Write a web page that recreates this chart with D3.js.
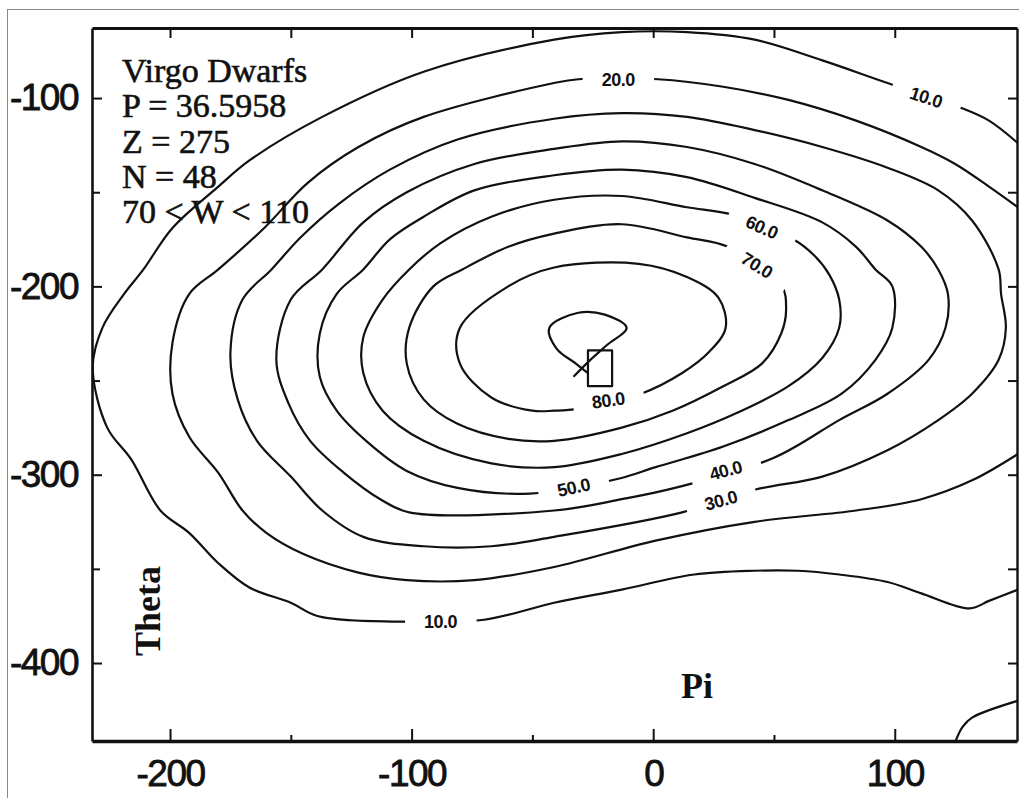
<!DOCTYPE html>
<html lang="en">
<head>
<meta charset="UTF-8">
<title>Virgo Dwarfs - contour map</title>
<script src="https://d3js.org/d3.v7.min.js"></script>
<style>
  body { margin: 0; background: #fff; }
  .axis .tick text {
    font-family: "Liberation Sans Narrow", "Liberation Sans", Arial, sans-serif;
    font-size: 37px;
    letter-spacing: -1.5px;
    fill: #111;
    stroke: #111;
    stroke-width: 0.8px;
  }
  .axis .tick line { stroke: #111; stroke-width: 2px; }
  .axis .domain { stroke: #111; }
  .contour { fill: none; stroke: #111; stroke-width: 2.2; stroke-linejoin: round; }
  .clabel {
    font-family: "Liberation Sans Narrow", "Liberation Sans", Arial, sans-serif;
    font-weight: bold;
    font-size: 18px;
    letter-spacing: -0.5px;
    fill: #111;
  }
  .info {
    font-family: "Liberation Serif", "Times New Roman", serif;
    font-size: 34px;
    fill: #111;
    stroke: #111;
    stroke-width: 0.6px;
  }
  .title {
    font-family: "Liberation Serif", "Times New Roman", serif;
    font-weight: bold;
    font-size: 36px;
    fill: #111;
  }
</style>
</head>
<body>
<svg id="chart" width="1019" height="798"></svg>
<script>
// contour lines as [Pi, Theta] points
var c10 = [[151,-124],[139,-112],[127,-105],[97,-92],[70,-80],[42,-69],[14,-65],[-13,-65],[-41,-69],
    [-95,-86],[-137,-110],[-167,-133],[-180,-147],[-199,-169],[-211,-191],[-219,-204],[-228,-222],
    [-232,-243],[-226,-275],[-216,-292],[-204,-319],[-192,-331],[-180,-347],[-167,-360],[-150,-368],
    [-139,-375],[-106,-378],[-70,-377],[-41,-368],[-13,-361],[17,-353],[42,-351],[60,-351],[77,-353],
    [97,-357],[111,-363],[131,-371],[139,-367],[151,-361]];
var c10b = [[125,-442],[128,-434],[132,-429],[151,-420]];
var c20 = [[151,-158],[139,-147],[125,-135],[111,-126],[84,-112],[56,-101],[29,-94],[2,-90],[-31,-90],
    [-41,-92],[-95,-110],[-122,-126],[-143,-145],[-161,-169],[-180,-191],[-192,-204],[-199,-230],
    [-199,-257],[-192,-280],[-180,-299],[-170,-319],[-160,-331],[-145,-342],[-122,-352],[-102,-356],
    [-74,-356],[-41,-349],[1,-335],[42,-325],[84,-319],[111,-313],[132,-303],[151,-289]];
var c30 = [[-41,-111],[-13,-108],[14,-110],[42,-117],[70,-126],[97,-137],[118,-149],[132,-165],[143,-191],
    [144,-204],[146,-222],[143,-239],[132,-257],[118,-271],[97,-287],[70,-301],[42,-308],[12,-320],
    [-41,-333],[-67,-338],[-95,-338],[-120,-333],[-137,-319],[-150,-301],[-164,-282],[-172,-260],
    [-175,-235],[-170,-207],[-158,-191],[-146,-174],[-130,-156],[-109,-138],[-81,-122]];
var c40 = [[-41,-127],[-13,-123],[14,-126],[42,-135],[70,-149],[97,-165],[111,-179],[118,-191],[122,-204],
    [121,-222],[114,-239],[97,-257],[77,-271],[50,-291],[9,-307],[-13,-313],[-41,-319],[-101,-320],
    [-113,-313],[-128,-299],[-142,-282],[-151,-262],[-156,-239],[-150,-207],[-137,-191],[-120,-166],
    [-102,-150],[-74,-135]];
var c50 = [[-41,-141],[-13,-138],[14,-142],[42,-153],[70,-166],[84,-179],[92,-191],[99,-200],[99,-222],
    [92,-239],[78,-257],[56,-271],[29,-285],[1,-296],[-14,-302],[-51,-310],[-81,-307],[-102,-298],
    [-118,-283],[-131,-266],[-138,-248],[-138,-225],[-131,-204],[-120,-191],[-109,-175],[-95,-163],
    [-74,-149]];
var c60 = [[-41,-154],[-13,-152],[14,-158],[33,-162],[58,-175],[67,-184],[73,-194],[77,-207],[77,-222],
    [70,-238],[56,-253],[35,-267],[14,-278],[-13,-289],[-41,-296],[-67,-294],[-95,-282],[-112,-266],
    [-120,-246],[-120,-227],[-112,-207],[-101,-191],[-88,-177],[-67,-163]];
var c70 = [[-41,-172],[-13,-167],[14,-174],[31,-179],[53,-199],[55,-213],[53,-225],[45,-241],[29,-253],
    [8,-266],[-13,-275],[-41,-282],[-60,-281],[-81,-273],[-95,-260],[-102,-241],[-101,-222],[-91,-200],
    [-79,-191],[-60,-179]];
var c80 = [[-41,-190],[-6,-188],[14,-195],[27,-206],[30,-222],[23,-235],[12,-246],[-5,-257],[-31,-265],
    [-41,-266],[-50,-266],[-67,-259],[-80,-241],[-80,-222],[-60,-200]];
var c90 = [[-27,-246],[-32,-241],[-40,-233],[-43,-222],[-31,-214],[-20,-215],[-11,-222],[-19,-231],
    [-26,-239],[-33,-248]];

// small box marker
var boxPi = [-27, -17];
var boxTheta = [-234, -253];

// contour labels
var labelText = ["10.0", "20.0", "60.0", "70.0", "80.0", "50.0", "40.0", "30.0", "10.0"];
var labelPi = [113, -14.5, 45, 43, -18.6, -33, 30, 28, -88];
var labelTheta = [-99.5, -90.4, -168.5, -188.7, -260.4, -306.6, -297.6, -313.5, -377.8];
var labelAngle = [18, 0, 24, 32, -8, -12, -15, -15, 0];

var infoLines = ["Virgo Dwarfs", "P = 36.5958", "Z = 275", "N = 48", "70 < W < 110"];

var xMajor = [-200, -100, 0, 100];
var xMinor = [-150, -50, 50];
var xTop = [-200, -150, -100, -50, 0, 50, 100];
var yMajor = [-100, -200, -300, -400];
var yMinor = [-150, -250, -350];
var yRight = [-100, -150, -200, -250, -300, -350, -400];

var svg = d3.select("#chart");
var pLeft = 92, pRight = 1017, pTop = 28, pBottom = 741;

var x = d3.scaleLinear().domain([-232.3, 150.6]).range([pLeft, pRight]);
var y = d3.scaleLinear().domain([-62.8, -441.4]).range([pTop, pBottom]);

// thin outer frame of the scan
svg.append("rect")
    .attr("x", 7.5).attr("y", 9.5)
    .attr("width", 1100).attr("height", 900)
    .attr("fill", "none").attr("stroke", "#888").attr("stroke-width", 1);

svg.append("defs").append("clipPath").attr("id", "plot")
    .append("rect")
    .attr("x", pLeft).attr("y", pTop)
    .attr("width", pRight - pLeft).attr("height", pBottom - pTop);

var openLine = d3.line()
    .x(function(d) { return x(d[0]); })
    .y(function(d) { return y(d[1]); })
    .curve(d3.curveCatmullRom.alpha(0.5));
var closedLine = d3.line()
    .x(function(d) { return x(d[0]); })
    .y(function(d) { return y(d[1]); })
    .curve(d3.curveCatmullRomClosed.alpha(0.5));

var plot = svg.append("g").attr("clip-path", "url(#plot)");

plot.selectAll(".open")
    .data([c10, c10b, c20, c90])
    .enter().append("path")
    .attr("class", "contour open")
    .attr("d", openLine);

plot.selectAll(".closed")
    .data([c30, c40, c50, c60, c70, c80])
    .enter().append("path")
    .attr("class", "contour closed")
    .attr("d", closedLine);

plot.append("rect")
    .attr("class", "contour")
    .attr("x", x(boxPi[0]))
    .attr("y", y(boxTheta[0]))
    .attr("width", x(boxPi[1]) - x(boxPi[0]))
    .attr("height", y(boxTheta[1]) - y(boxTheta[0]));

// labels sit in a gap cut out of the line
var labs = plot.selectAll(".lab")
    .data(labelText)
    .enter().append("g")
    .attr("class", "lab")
    .attr("transform", function(d, i) {
        return "translate(" + x(labelPi[i]) + "," + y(labelTheta[i]) + ") rotate(" + labelAngle[i] + ")";
    });
labs.append("rect").attr("fill", "#fff");
labs.append("text")
    .attr("class", "clabel")
    .attr("text-anchor", "middle")
    .attr("dy", "0.36em")
    .text(function(d) { return d; });
labs.each(function() {
    var g = d3.select(this);
    var b = g.select("text").node().getBBox();
    g.select("rect")
        .attr("x", b.x - 19).attr("y", b.y + 1)
        .attr("width", b.width + 38).attr("height", b.height - 2);
});

// axes, ticks point inward
var label = function(d) { return String(d); };

var xAxis = svg.append("g").attr("class", "axis")
    .attr("transform", "translate(0," + pBottom + ")")
    .call(d3.axisBottom(x).tickValues(xMajor).tickSizeInner(-12).tickSizeOuter(0)
        .tickPadding(19).tickFormat(label));
xAxis.select(".domain").attr("stroke-width", 3.5);

svg.append("g").attr("class", "axis")
    .attr("transform", "translate(0," + pBottom + ")")
    .call(d3.axisBottom(x).tickValues(xMinor).tickSizeInner(-6).tickSizeOuter(0).tickFormat(""))
    .call(function(g) { g.select(".domain").remove(); });

var yAxis = svg.append("g").attr("class", "axis")
    .attr("transform", "translate(" + pLeft + ",0)")
    .call(d3.axisLeft(y).tickValues(yMajor).tickSizeInner(-10).tickSizeOuter(0)
        .tickPadding(14).tickFormat(label));
yAxis.select(".domain").attr("stroke-width", 2.6);

svg.append("g").attr("class", "axis")
    .attr("transform", "translate(" + pLeft + ",0)")
    .call(d3.axisLeft(y).tickValues(yMinor).tickSizeInner(-8).tickSizeOuter(0).tickFormat(""))
    .call(function(g) { g.select(".domain").remove(); });

var topAxis = svg.append("g").attr("class", "axis")
    .attr("transform", "translate(0," + pTop + ")")
    .call(d3.axisTop(x).tickValues(xTop).tickSizeInner(-10).tickSizeOuter(0).tickFormat(""));
topAxis.select(".domain").attr("stroke-width", 3);

var rightAxis = svg.append("g").attr("class", "axis")
    .attr("transform", "translate(" + pRight + ",0)")
    .call(d3.axisRight(y).tickValues(yRight).tickSizeInner(-9).tickSizeOuter(0).tickFormat(""));
rightAxis.select(".domain").attr("stroke-width", 2.4);

// info block, top left
svg.append("g").selectAll("text")
    .data(infoLines)
    .enter().append("text")
    .attr("class", "info")
    .attr("x", 122)
    .attr("y", function(d, i) { return 82 + i * 35.3; })
    .text(function(d) { return d; });

// axis titles
svg.append("text")
    .attr("class", "title")
    .attr("transform", "translate(160,611) rotate(-90)")
    .attr("text-anchor", "middle")
    .text("Theta");

svg.append("text")
    .attr("class", "title")
    .attr("x", 697).attr("y", 698)
    .attr("text-anchor", "middle")
    .text("Pi");
</script>
</body>
</html>
